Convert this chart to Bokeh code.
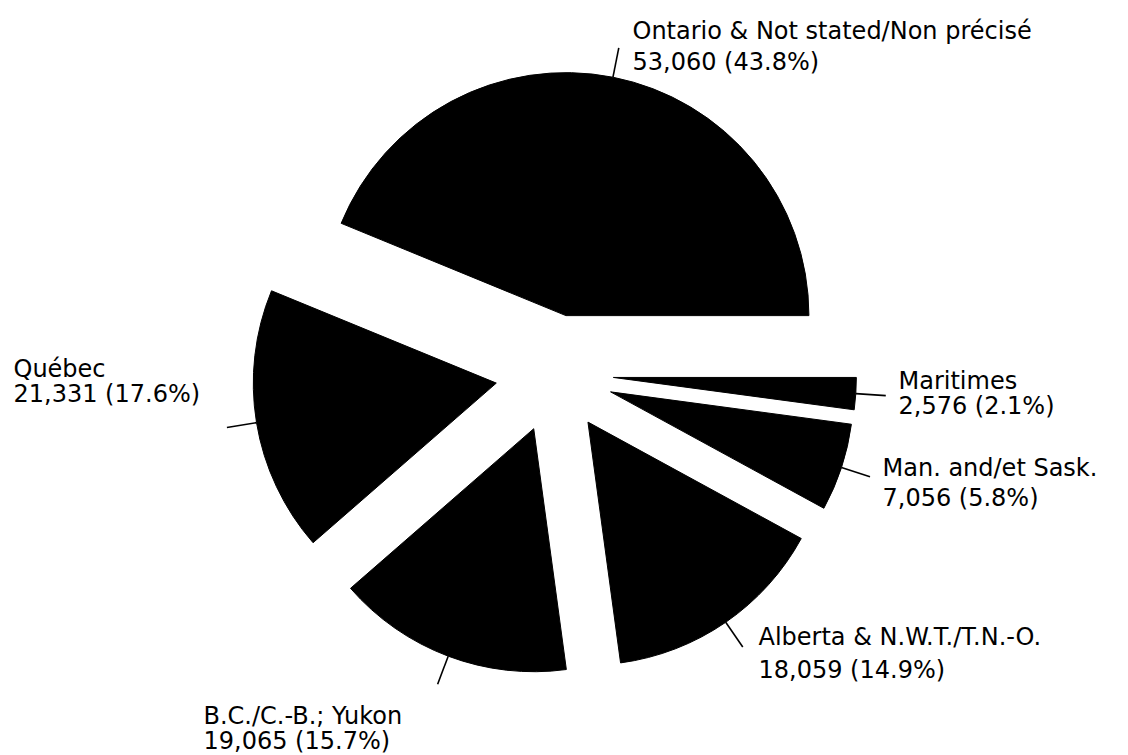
import math
from bokeh.plotting import figure
from bokeh.models import ColumnDataSource, Range1d
from bokeh.core.properties import value
from bokeh.embed import file_html
from bokeh.resources import INLINE

# ---- data ----
regions = ["Ontario & Not stated/Non précisé", "Québec", "B.C./C.-B.; Yukon",
           "Alberta & N.W.T./T.N.-O.", "Man. and/et Sask.", "Maritimes"]
counts = [53060, 21331, 19065, 18059, 7056, 2576]

# ---- layout (pixel-like data units; y measured upward) ----
W, H = 1128, 755
CX, CY = 554, 382      # pie centre
R = 243                # radius
EXPLODE = 59           # offset of every slice along its bisector
LEAD_IN, LEAD_OUT = R, R + 30
# label anchors: (x, baseline of line 1, baseline of line 2) in page pixels from top
label_pos = [(632, 30, 61), (13, 368, 393), (203, 715, 740),
             (758, 636, 669), (882, 467, 497), (898, 380, 405)]

total = sum(counts)
starts, ends, xs, ys = [], [], [], []
lx0, ly0, lx1, ly1 = [], [], [], []
acc = 0.0
for c in counts:
    a0 = 2 * math.pi * acc / total
    acc += c
    a1 = 2 * math.pi * acc / total
    mid = (a0 + a1) / 2
    ox = CX + EXPLODE * math.cos(mid)
    oy = CY + EXPLODE * math.sin(mid)
    starts.append(a0); ends.append(a1); xs.append(ox); ys.append(oy)
    lx0.append(ox + LEAD_IN * math.cos(mid)); ly0.append(oy + LEAD_IN * math.sin(mid))
    lx1.append(ox + LEAD_OUT * math.cos(mid)); ly1.append(oy + LEAD_OUT * math.sin(mid))

wedges = ColumnDataSource(dict(x=xs, y=ys, start=starts, end=ends))
leaders = ColumnDataSource(dict(x0=lx0, y0=ly0, x1=lx1, y1=ly1))

tx, ty, tt = [], [], []
for name, c, (px, b1, b2) in zip(regions, counts, label_pos):
    pct = 100.0 * c / total
    tx += [px, px]
    ty += [H - b1, H - b2]
    tt += [name, f"{c:,} ({pct:.1f}%)"]
labels = ColumnDataSource(dict(x=tx, y=ty, text=tt))

p = figure(width=W, height=H, x_range=Range1d(0, W), y_range=Range1d(0, H),
           x_axis_type=None, y_axis_type=None, toolbar_location=None,
           output_backend="svg", min_border=0, outline_line_color=None,
           background_fill_color="white", border_fill_color="white")
p.grid.visible = False

p.wedge(x="x", y="y", radius=R, start_angle="start", end_angle="end",
        direction="anticlock", fill_color="black", line_color="black",
        line_width=1, source=wedges)
p.segment(x0="x0", y0="y0", x1="x1", y1="y1", line_color="black",
          line_width=1.6, source=leaders)
p.text(x="x", y="y", text="text", text_font=value("DejaVu Sans"),
       text_font_size="24px", text_color="black", text_align="left",
       text_baseline="alphabetic", source=labels)

open("out.html", "w").write(file_html(p, INLINE))
